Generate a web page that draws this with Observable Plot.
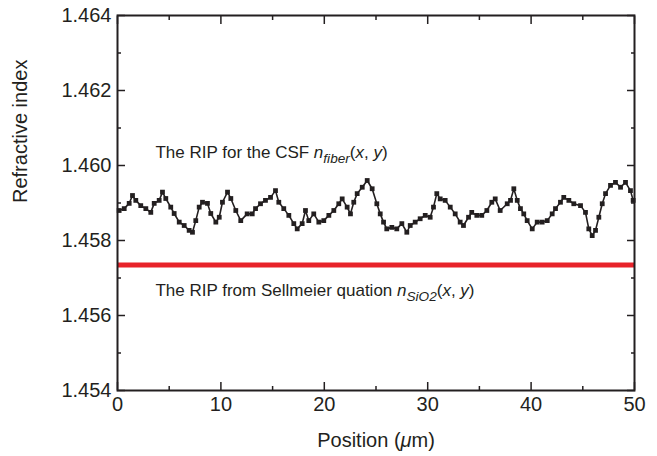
<!DOCTYPE html>
<html><head><meta charset="utf-8">
<script src="https://cdn.jsdelivr.net/npm/d3@7"></script>
<script src="https://cdn.jsdelivr.net/npm/@observablehq/plot@0.6"></script>
<style>body{margin:0;background:#fff;}</style>
</head><body><div id="chart"></div>
<script>
// Position (µm) of each measured point
const positions = [0.16,0.65,1.13,1.45,1.77,2.25,2.74,3.22,3.55,4.03,4.35,4.67,5.15,5.48,5.97,6.45,6.93,7.25,7.57,7.90,
  8.22,8.70,9.02,9.51,9.84,10.15,10.64,10.96,11.44,11.92,12.54,13.03,13.35,13.83,14.31,14.80,15.28,15.60,16.08,16.57,
  17.05,17.38,17.86,18.18,18.50,18.98,19.47,19.95,20.44,20.92,21.40,21.73,22.21,22.53,22.85,23.18,23.67,24.15,24.63,25.08,
  25.41,25.73,26.04,26.53,27.01,27.50,27.98,28.31,28.79,29.27,29.76,30.24,30.56,30.88,31.21,31.69,32.18,32.66,33.14,33.46,
  33.95,34.26,34.75,35.23,35.72,36.20,36.53,37.01,37.69,38.01,38.33,38.66,38.97,39.29,39.62,40.11,40.59,41.07,41.56,42.04,
  42.36,42.84,43.16,43.65,44.13,44.78,45.26,45.58,45.91,46.23,46.55,46.88,47.20,47.68,48.16,48.65,49.13,49.61,49.87];
// RIP for the CSF n_fiber(x, y)
const ripFiber = [1.45880,1.45885,1.45899,1.45920,1.45907,1.45893,1.45885,1.45875,1.45899,1.45907,1.45929,1.45912,1.45889,1.45872,1.45849,1.45840,1.45827,1.45822,1.45853,1.45889,
  1.45902,1.45899,1.45872,1.45849,1.45862,1.45902,1.45929,1.45912,1.45880,1.45853,1.45871,1.45871,1.45885,1.45898,1.45907,1.45915,1.45933,1.45902,1.45885,1.45867,
  1.45845,1.45831,1.45845,1.45880,1.45853,1.45871,1.45849,1.45853,1.45867,1.45880,1.45898,1.45911,1.45889,1.45871,1.45902,1.45925,1.45942,1.45960,1.45938,1.45898,
  1.45871,1.45849,1.45831,1.45835,1.45831,1.45845,1.45822,1.45840,1.45849,1.45858,1.45867,1.45862,1.45889,1.45925,1.45911,1.45907,1.45889,1.45871,1.45849,1.45840,
  1.45862,1.45875,1.45867,1.45867,1.45880,1.45902,1.45911,1.45880,1.45898,1.45907,1.45938,1.45907,1.45885,1.45871,1.45853,1.45831,1.45849,1.45849,1.45853,1.45871,
  1.45885,1.45902,1.45915,1.45907,1.45898,1.45893,1.45875,1.45831,1.45813,1.45827,1.45862,1.45898,1.45925,1.45947,1.45955,1.45942,1.45955,1.45933,1.45907];
// RIP from the Sellmeier equation n_SiO2(x, y)
const ripSellmeier = [1.45735];

const xTicks = [0,10,20,30,40,50];
const xMinorTicks = [5,15,25,35,45];
const yTicks = [1.454,1.456,1.458,1.460,1.462,1.464];
const yMinorTicks = [1.455,1.457,1.459,1.461,1.463];

const xLabel = "Position (μm)";
const yLabel = "Refractive index";
// annotation segments: [text, style]
const annotationSegments = [
  [["The RIP for the CSF ",""],["n","i"],["fiber","sub"],["(",""],["x","i"],[", ",""],["y","i"],[")",""]],
  [["The RIP from Sellmeier quation ",""],["n","i"],["SiO2","sub"],["(",""],["x","i"],[", ",""],["y","i"],[")",""]]
];
const annotationX = [3.67, 3.67];
const annotationY = [1.46019, 1.45652];

const ink = "#231f20";
const data = positions.map((x, i) => ({x, y: ripFiber[i]}));
const annotations = annotationSegments.map((s, i) => ({x: annotationX[i], y: annotationY[i], text: s.map(d => d[0]).join("")}));
const fmt = d3.format(".3f");
const blank = () => "";
const axisStyle = {stroke: ink, strokeWidth: 1.5, color: ink, label: null};

const chart = Plot.plot({
  width: 657, height: 456,
  marginLeft: 117, marginRight: 23, marginTop: 15, marginBottom: 66,
  style: {fontFamily: "'Liberation Sans', Arial, Helvetica, sans-serif", background: "#fff", color: ink},
  x: {domain: [0, 50], axis: null},
  y: {domain: [1.454, 1.464], axis: null},
  marks: [
    Plot.ruleY(ripSellmeier, {stroke: "#e8232a", strokeWidth: 5}),
    Plot.line(data, {x: "x", y: "y", stroke: ink, strokeWidth: 1.6}),
    Plot.dot(data, {x: "x", y: "y", symbol: "square", r: 2.7, fill: ink, stroke: null}),
    Plot.axisX(xTicks, {anchor: "bottom", tickSize: -8, tickPadding: 14, fontSize: 20, tickFormat: d => String(d), ...axisStyle}),
    Plot.axisX(xMinorTicks, {anchor: "bottom", tickSize: -4, tickFormat: blank, ...axisStyle}),
    Plot.axisX(xTicks, {anchor: "top", tickSize: -8, tickFormat: blank, ...axisStyle}),
    Plot.axisX(xMinorTicks, {anchor: "top", tickSize: -4, tickFormat: blank, ...axisStyle}),
    Plot.axisY(yTicks, {anchor: "left", tickSize: -8, tickPadding: 14, fontSize: 20, tickFormat: fmt, ...axisStyle}),
    Plot.axisY(yMinorTicks, {anchor: "left", tickSize: -4, tickFormat: blank, ...axisStyle}),
    Plot.axisY(yTicks, {anchor: "right", tickSize: -8, tickFormat: blank, ...axisStyle}),
    Plot.axisY(yMinorTicks, {anchor: "right", tickSize: -4, tickFormat: blank, ...axisStyle}),
    Plot.frame({stroke: ink, strokeWidth: 2}),
    Plot.text(annotations, {x: "x", y: "y", text: "text", textAnchor: "start", lineAnchor: "bottom", fontSize: 17, fill: ink}),
    Plot.text([xLabel], {frameAnchor: "bottom", dy: 50, text: d => d, fontSize: 20, fill: ink, lineAnchor: "middle"}),
    Plot.text([yLabel], {frameAnchor: "left", dx: -97, rotate: -90, text: d => d, fontSize: 20, fill: ink, lineAnchor: "middle"})
  ]
});
document.getElementById("chart").appendChild(chart);

// rich text: italics and subscripts
d3.select(chart).selectAll("text").each(function() {
  const content = this.textContent;
  const t = d3.select(this);
  const idx = annotations.findIndex(a => a.text === content);
  if (idx >= 0) {
    t.text(null);
    let shifted = false;
    for (const [s, st] of annotationSegments[idx]) {
      const ts = t.append("tspan").text(s);
      if (st === "i") ts.attr("font-style", "italic");
      if (st === "sub") { ts.attr("font-style", "italic").attr("font-size", "0.8em").attr("dy", 5); shifted = true; }
      else if (shifted) { ts.attr("dy", -5); shifted = false; }
    }
  } else if (content === xLabel) {
    t.text(null);
    t.append("tspan").text("Position (");
    t.append("tspan").attr("font-style", "italic").text("μ");
    t.append("tspan").text("m)");
  }
});
</script>
</body></html>
